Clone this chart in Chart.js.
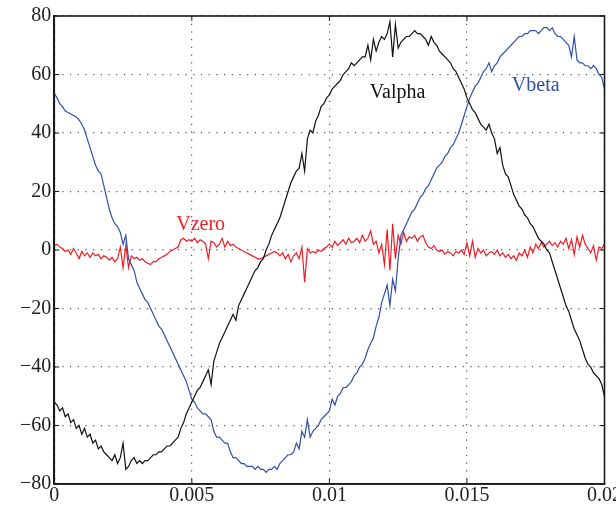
<!DOCTYPE html>
<html>
<head>
<meta charset="utf-8">
<script src="https://cdn.jsdelivr.net/npm/chart.js@4.4.0/dist/chart.umd.min.js"></script>
<style>
  html, body { margin: 0; padding: 0; background: #fff; overflow: hidden; }
  #wrap { width: 616px; height: 508px; overflow: hidden; }
</style>
</head>
<body>
<div id="wrap"><canvas id="voltChart" width="624" height="508"></canvas></div>
<script>
// sample spacing of the recorded waveforms (s)
const step = 0.0001;

const valpha = [
  -52, -53, -55, -54, -57, -56, -59, -58, -61, -60,
  -63, -61, -64, -63, -66, -65, -68, -67, -69, -70,
  -71, -72, -70, -73, -71, -66, -75, -74, -72, -71,
  -73, -72, -73, -72, -72, -71, -70, -70, -69, -69,
  -68, -67, -67, -66, -65, -64, -61, -59, -56, -54,
  -52, -50, -48, -47, -45, -43, -41, -46, -38, -35,
  -32, -30, -28, -26, -24, -22, -24, -19, -17, -15,
  -13, -11, -9, -7, -6, -4, -3, 0, 2, 5,
  7, 9, 11, 14, 17, 20, 23, 25, 27, 28,
  33, 27, 38, 41, 40, 44, 46, 49, 50, 52,
  53, 55, 56, 57, 58, 60, 61, 62, 64, 63,
  64, 65, 66, 66, 70, 65, 72, 68, 71, 73,
  72, 74, 78, 66, 77, 69, 71, 72, 73, 73,
  74, 75, 74, 74, 73, 72, 70, 73, 71, 70,
  68, 67, 66, 65, 64, 62, 61, 59, 57, 55,
  52, 50, 48, 47, 45, 43, 42, 41, 43, 40,
  38, 33, 35, 29, 26, 25, 22, 19, 17, 15,
  14, 12, 11, 9, 8, 6, 4, 3, 2, 0,
  -1, -4, -7, -10, -13, -16, -19, -21, -24, -27,
  -29, -31, -34, -37, -39, -40, -42, -43, -44, -46,
  -50
];

const vbeta = [
  53.5, 52, 50, 49, 47.5, 47, 46.5, 46, 45.5, 44.5,
  43, 41, 38, 35, 32, 29, 27, 26, 22, 18,
  14, 11, 9, 8, 6, 2, 5, -3, -5, -7,
  -11, -13, -15, -17, -18, -20, -22, -24, -26, -27,
  -29, -31, -33, -35, -37, -39, -41, -43, -45, -48,
  -51, -52, -54, -55, -56, -56, -57, -58, -62, -64,
  -64, -65, -66, -66, -69, -71, -71, -72, -73, -73,
  -74, -74, -74, -75, -74, -75, -75, -76, -75, -75,
  -74, -75, -73, -72, -71, -70, -70, -69, -66, -68,
  -62, -64, -58, -64, -62, -61, -60, -58, -57, -56,
  -55, -51, -53, -50, -49, -47, -47, -46, -45, -43,
  -42, -40, -39, -37, -34, -32, -30, -26, -23, -18,
  -15, -12, -19, -10, -14, -3, 5, 7, 9, 11,
  13, 14, 16, 18, 19, 21, 22, 24, 26, 28,
  29, 30, 32, 33, 35, 36, 38, 40, 43, 46,
  49, 52, 54, 56, 57, 59, 61, 62, 64, 61,
  63, 64, 66, 67, 68, 69, 70, 71, 72, 73,
  73, 74, 74, 75, 75, 75, 74, 75, 76, 76,
  75, 76, 74, 73, 73, 72, 71, 70, 66, 73,
  65, 64, 64, 63, 63, 62, 63, 62, 60, 59,
  55
];

const vzero = [
  1.5, 2, 1, 0.5, -0.5, 0, -1.5, 0.5, -1, -3,
  -0.5, -2, -1, -2.5, -1, -2, -1.5, -3, -2, -2.5,
  -3.5, -2.5, -4, -3, 1, -6, 1.5, -6, -2, -3,
  -2.5, -3.5, -3, -4, -4.5, -5, -4, -4, -3, -2.5,
  -2, -1.5, -0.5, 0, 0.5, 1, 3.5, 4, 3, 3.5,
  3, 4, 2.5, 3.5, 3, 2, -3, 3, 2.5, 1,
  2, 4, 1, 3, 1.5, 2, 1, 0.5, 0, -0.5,
  -1, -1.5, -2, -2.5, -3, -3, -2.5, -2, -1.5, -1,
  -0.5, -1, -2, -1, -3, -1.5, -4, -2, -1, -3,
  1, -11, 0.5, -1, -0.5, -1, 0, -0.5, 0.5, 1,
  2, 1, 3, 1.5, 2.5, 3.5, 2, 4, 2.5, 3,
  4, 2.5, 5, 3, 4, 6.5, 2, 3, -1, 2,
  -5, 7, -7, 9, -3, 5, 2, 6, 3, 4.5,
  4, 5, 3, 4.5, 5, 2.5, 1, 0.5, 1.5, 0,
  -0.5, 0, -1.5, -0.5, -1, -2, -0.5, -1, 0, -1.5,
  2.5, -2, 3, -2.5, 0.5, -1, 0, -2, -1, -0.5,
  -1.5, 0, -2, -1, -2.5, -1.5, -3, -2, -3.5, -1,
  -2, 0, -2.5, 1, -1, 2, 0.5, 2.5, 1, 2,
  3, 1.5, 2.5, 1, 3, 2, 4, 0.5, 3.5, -1.5,
  4.5, 1, 5, 2, 0.5, -1, 1.5, -3.5, 1, 0.5,
  2
];

const seriesNames = ['Valpha', 'Vbeta', 'Vzero'];
const xTicks = [0, 0.005, 0.01, 0.015, 0.02];
const xTickLabels = ['0', '0.005', '0.01', '0.015', '0.02'];
const yTicks = [-80, -60, -40, -20, 0, 20, 40, 60, 80];
const yTickLabels = ['\u221280', '\u221260', '\u221240', '\u221220', '0', '20', '40', '60', '80'];

const colors = ['#111111', '#2f4fae', '#f01c24'];
// where the series names sit on the plot (data coords, text baseline)
const nameSpots = [
  { x: 0.01248, y: 52 },
  { x: 0.0175, y: 54.4 },
  { x: 0.00532, y: 6.7 }
];

const times = valpha.map((_, i) => +(i * step).toFixed(4));
const toPoints = arr => arr.map((v, i) => ({ x: times[i], y: v }));

const serif = '"Liberation Serif", "Times New Roman", serif';
const tickFont = { family: serif, size: 20, lineHeight: 1 };

// box around the plot, inward tick marks and the series names
const framePlugin = {
  id: 'framePlugin',
  afterDatasetsDraw(chart) {
    const { ctx, chartArea: a, scales } = chart;
    ctx.save();
    ctx.font = '20px ' + serif;
    ctx.textAlign = 'center';
    ctx.textBaseline = 'alphabetic';
    nameSpots.forEach((s, i) => {
      ctx.fillStyle = colors[i];
      ctx.fillText(seriesNames[i], scales.x.getPixelForValue(s.x), scales.y.getPixelForValue(s.y));
    });

    ctx.strokeStyle = '#1a1a1a';
    ctx.lineWidth = 1;
    const len = 5;
    ctx.beginPath();
    xTicks.forEach(v => {
      const px = scales.x.getPixelForValue(v);
      ctx.moveTo(px, a.bottom); ctx.lineTo(px, a.bottom - len);
      ctx.moveTo(px, a.top); ctx.lineTo(px, a.top + len);
    });
    yTicks.forEach(v => {
      const py = scales.y.getPixelForValue(v);
      ctx.moveTo(a.left, py); ctx.lineTo(a.left + len, py);
      ctx.moveTo(a.right, py); ctx.lineTo(a.right - len, py);
    });
    ctx.stroke();

    ctx.lineWidth = 1.6;
    ctx.strokeRect(a.left, a.top, a.right - a.left, a.bottom - a.top);
    ctx.restore();
  }
};

new Chart(document.getElementById('voltChart').getContext('2d'), {
  type: 'line',
  data: {
    datasets: [valpha, vbeta, vzero].map((arr, i) => ({
      label: seriesNames[i],
      data: toPoints(arr),
      borderColor: colors[i],
      borderWidth: 1.2,
      pointRadius: 0,
      tension: 0,
      fill: false
    }))
  },
  options: {
    responsive: false,
    animation: false,
    events: [],
    layout: { padding: { left: 17, top: 16, right: 0, bottom: 0 } },
    plugins: { legend: { display: false }, tooltip: { enabled: false } },
    scales: {
      x: {
        type: 'linear',
        min: 0,
        max: 0.02,
        afterBuildTicks: s => { s.ticks = xTicks.map(v => ({ value: v })); },
        ticks: {
          callback: v => xTickLabels[xTicks.indexOf(v)],
          font: tickFont,
          color: '#222',
          padding: 2,
          maxRotation: 0,
          autoSkip: false
        },
        grid: { color: '#555', lineWidth: 1.2, drawTicks: false },
        border: { display: true, color: '#1a1a1a', width: 1.6, dash: [1.2, 6.5] }
      },
      y: {
        min: -80,
        max: 80,
        afterBuildTicks: s => { s.ticks = yTicks.map(v => ({ value: v })); },
        ticks: {
          callback: v => yTickLabels[yTicks.indexOf(v)],
          font: tickFont,
          color: '#222',
          padding: 3
        },
        grid: { color: '#555', lineWidth: 1.2, drawTicks: false },
        border: { display: true, color: '#1a1a1a', width: 1.6, dash: [1.2, 6.5] }
      }
    }
  },
  plugins: [framePlugin]
});
</script>
</body>
</html>
